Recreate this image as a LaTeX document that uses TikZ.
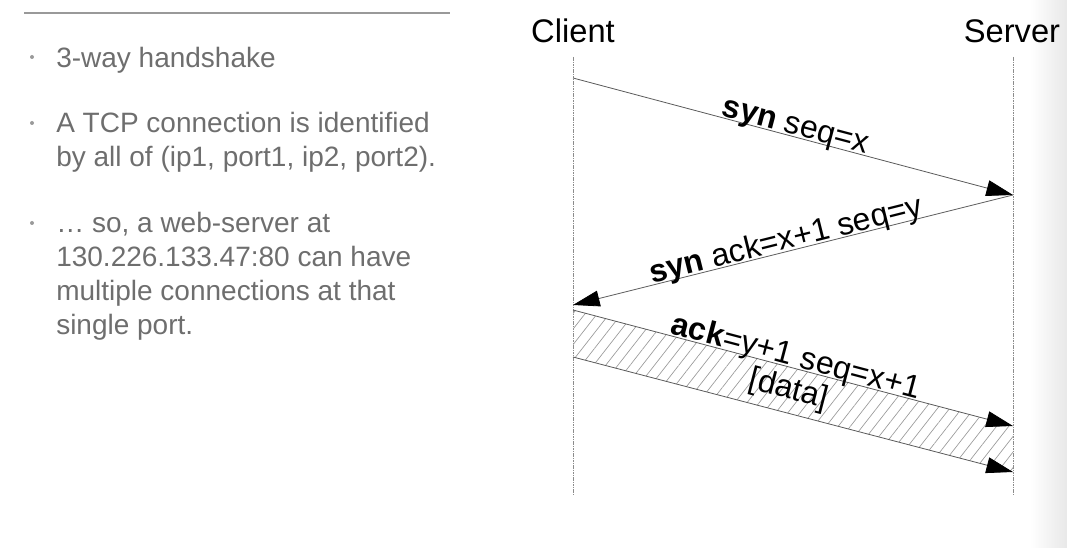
\documentclass[tikz,border=0pt]{standalone}
\usepackage{fontspec}
\setmainfont{Liberation Sans}
\usetikzlibrary{arrows.meta,patterns.meta,calc}
\definecolor{bodygray}{RGB}{110,110,110}
\definecolor{linegray}{RGB}{90,90,90}
\begin{document}
\begin{tikzpicture}[x=0.75pt,y=-0.75pt,
  life/.style={draw=gray!90,line width=0.6pt,dash pattern=on 1.2pt off 0.6pt},
  msg/.style={draw=linegray,line width=0.6pt,-{Triangle[length=20pt,width=12pt,color=black]}},
  lbl/.style={font=\fontsize{24}{27}\selectfont,sloped,anchor=base,inner sep=0pt,yshift=1.5pt},
  side/.style={font=\fontsize{24.5}{28}\selectfont,anchor=base},
  bul/.style={font=\fontsize{21}{25.5}\selectfont,text=bodygray,align=left,anchor=base west,inner sep=0pt}]
\useasboundingbox (0,0) rectangle (1067,548);
\shade[left color=white,right color=black!9] (1030,0) rectangle (1067,548);
\draw[gray!80,line width=0.8pt] (24,13) -- (450,13);
\fill[bodygray!70] (32,57) circle (2) (32,123) circle (2) (32,223) circle (2);
\node[bul] (b1) at (56,68) {3-way handshake};
\node[bul] (b2) at (56,167) {A TCP connection is identified\\by all of (ip1, port1, ip2, port2).};
\node[bul] (b3) at (56,335) {… so, a web-server at\\130.226.133.47:80 can have\\multiple connections at that\\single port.};
\node[side] (client) at (573,43) {Client};
\node[side] (server) at (1012,43) {Server};
\coordinate (C0) at (573,57); \coordinate (C1) at (573,495);
\coordinate (S0) at (1013,57); \coordinate (S1) at (1013,495);
\draw[life] (C0) -- (C1);
\draw[life] (S0) -- (S1);
\coordinate (c1) at (573,78); \coordinate (s1) at (1013,195);
\coordinate (c2) at (573,305);
\coordinate (c3) at (573,310); \coordinate (s3) at (1013,426);
\coordinate (c4) at (573,357); \coordinate (s4) at (1013,472);
\fill[pattern={Lines[angle=52,distance=7.2pt,line width=0.5pt]},pattern color=gray!80] (c3) -- (s3) -- (s4) -- (c4) -- cycle;
\draw[msg] (c1) -- node[lbl] (l1) {\textbf{syn} seq=x} (s1);
\draw[msg] (s1) -- node[lbl,pos=0.51] (l2) {\textbf{syn} ack=x+1 seq=y} (c2);
\draw[msg] (c3) -- node[lbl] (l3) {\textbf{ack}=y+1 seq=x+1} (s3);
\draw[msg] (c4) -- (s4);
\path ($(c3)!0.5!(c4)$) -- node[sloped,font=\fontsize{24}{27}\selectfont,pos=0.49] (data) {[data]} ($(s3)!0.5!(s4)$);
\end{tikzpicture}
\end{document}
